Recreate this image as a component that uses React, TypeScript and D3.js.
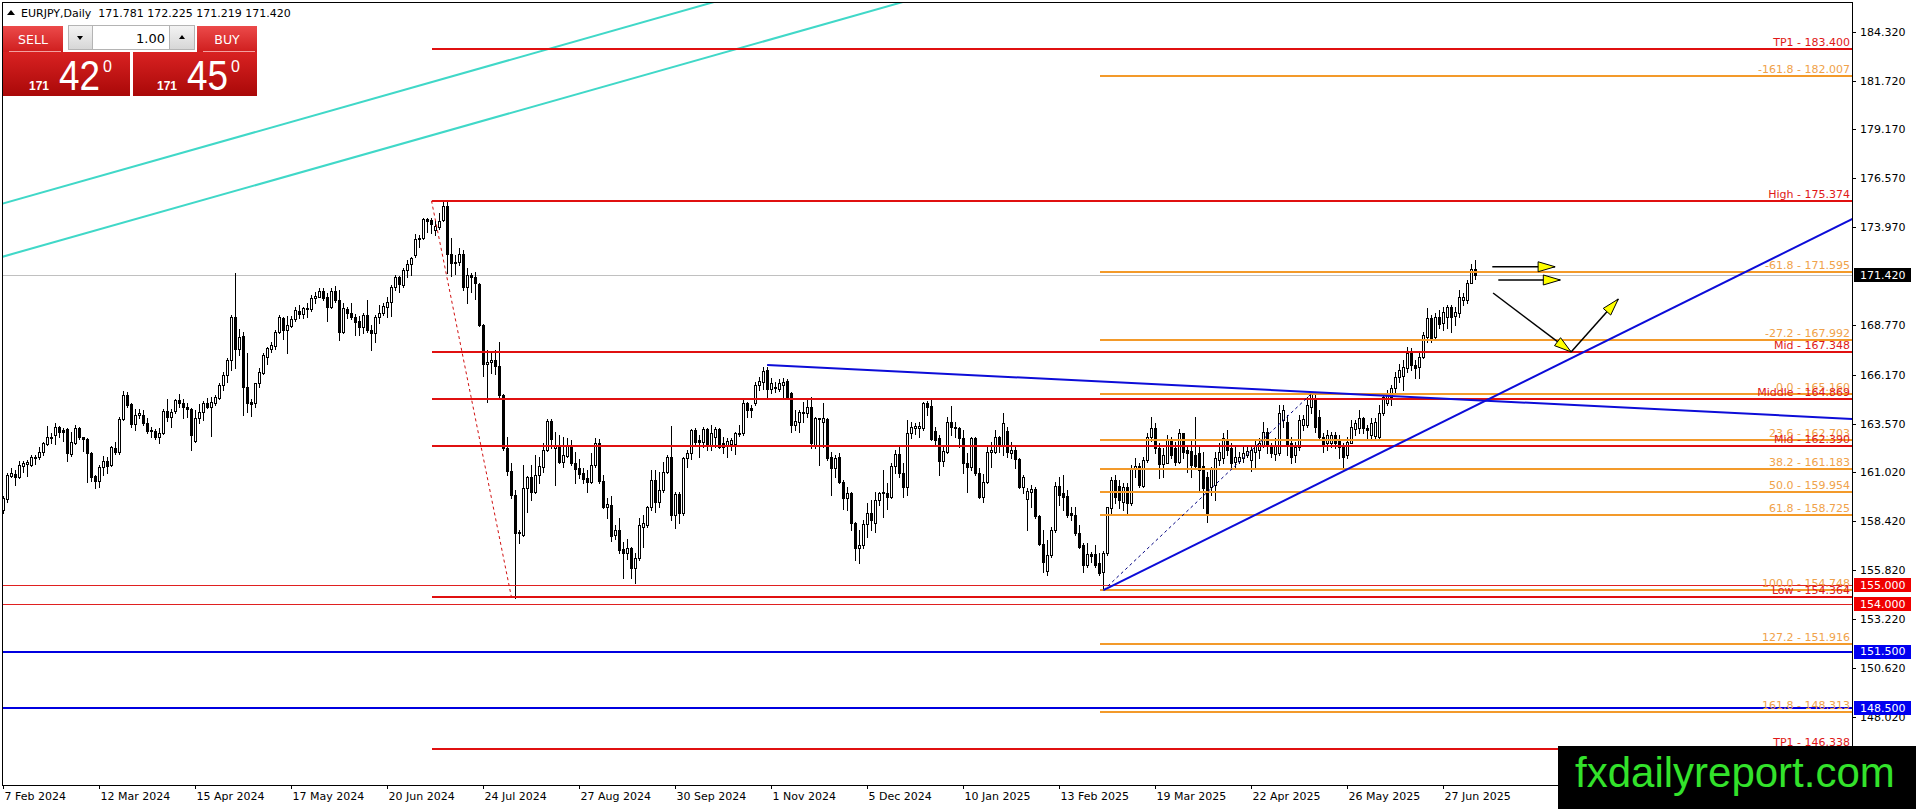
import * as d3 from 'd3';
import { useEffect, useRef } from 'react';

type Bar = [number, number, number, number]; // open, high, low, close

// Daily EURJPY candles
const febApr2024: Bar[] = [
  [159.0, 159.75, 158.82, 159.61], [159.56, 160.94, 159.44, 160.85], [160.8, 161.2, 160.76, 160.94], [160.9, 161.11, 160.32, 160.76],
  [160.76, 161.61, 160.67, 161.38], [161.33, 161.61, 161.03, 161.5], [161.45, 161.64, 160.81, 161.52], [161.38, 161.91, 161.33, 161.82],
  [161.79, 161.91, 161.42, 161.82], [161.79, 162.35, 161.68, 162.09], [162.05, 162.6, 161.91, 162.53], [162.49, 163.45, 162.44, 162.84],
  [162.84, 163.09, 162.56, 162.88], [162.97, 163.62, 162.49, 163.41], [163.41, 163.45, 162.88, 163.15], [163.23, 163.32, 162.67, 163.15],
  [163.27, 163.32, 161.61, 162.0], [161.96, 163.14, 161.86, 162.61], [162.56, 163.52, 162.47, 163.32], [163.32, 163.38, 162.74, 162.84],
  [162.84, 162.88, 162.12, 162.74], [162.74, 162.79, 160.5, 162.0], [162.0, 162.09, 160.55, 160.76], [160.8, 160.85, 160.14, 160.53],
  [160.55, 161.38, 160.2, 161.26], [161.26, 161.86, 160.85, 161.61], [161.61, 161.82, 160.97, 161.33], [161.38, 162.39, 161.33, 162.31],
  [162.26, 162.61, 161.96, 162.08], [162.08, 163.94, 161.96, 163.8], [163.8, 165.32, 163.76, 165.09], [165.09, 165.27, 164.47, 164.56],
  [164.61, 164.68, 163.41, 163.55], [163.55, 164.33, 163.23, 164.03], [164.03, 164.33, 163.85, 164.12], [164.03, 164.29, 163.5, 163.62],
  [163.62, 163.85, 163.1, 163.18], [163.23, 163.41, 162.88, 163.18], [163.18, 163.27, 162.74, 162.84], [162.84, 163.32, 162.56, 163.09],
  [163.09, 164.33, 163.02, 164.26], [164.26, 164.86, 163.73, 163.94], [163.94, 164.33, 163.41, 164.2], [164.26, 164.86, 164.12, 164.82],
  [164.82, 165.14, 164.47, 164.68], [164.68, 164.86, 163.85, 164.43], [164.47, 164.65, 163.94, 164.33], [164.33, 164.38, 162.17, 162.97],
  [162.67, 164.29, 162.61, 163.85], [163.85, 164.61, 163.62, 164.2], [164.2, 164.79, 163.76, 164.68], [164.68, 164.91, 164.4, 164.47],
  [164.47, 165.0, 162.92, 164.73], [164.65, 165.09, 164.56, 164.97],
];

const aprJul2024: Bar[] = [
  [164.91, 165.74, 164.86, 165.62], [165.62, 166.33, 165.35, 166.15], [166.15, 167.03, 165.8, 166.95], [166.95, 169.33, 166.41, 169.24],
  [169.24, 171.57, 166.5, 167.51], [167.51, 168.57, 167.21, 168.18], [168.22, 168.4, 164.03, 165.53], [165.53, 167.3, 164.21, 164.65],
  [164.74, 164.86, 163.95, 164.61], [164.65, 165.74, 164.47, 165.71], [165.71, 166.5, 165.53, 166.33], [166.27, 167.3, 166.2, 167.21],
  [167.12, 167.65, 166.73, 167.56], [167.51, 167.91, 167.38, 167.74], [167.68, 168.53, 167.51, 168.44], [168.44, 169.33, 168.35, 169.24],
  [169.15, 169.24, 168.04, 168.53], [168.53, 169.27, 167.3, 168.8], [168.74, 169.27, 168.71, 169.1], [169.1, 169.73, 169.01, 169.59],
  [169.54, 169.86, 169.15, 169.38], [169.38, 169.77, 169.15, 169.68], [169.68, 169.94, 169.24, 169.63], [169.63, 170.39, 169.56, 170.21],
  [170.21, 170.56, 169.94, 170.33], [170.3, 170.74, 170.26, 170.62], [170.62, 170.74, 170.12, 170.21], [170.26, 170.47, 169.03, 169.77],
  [169.77, 170.74, 169.68, 170.62], [170.62, 170.86, 170.03, 170.12], [170.12, 170.65, 168.0, 168.44], [168.44, 169.94, 168.35, 169.68],
  [169.63, 169.77, 169.15, 169.42], [169.42, 169.94, 169.1, 169.24], [169.24, 169.38, 168.27, 168.97], [169.03, 169.27, 168.27, 168.67],
  [168.67, 169.42, 168.35, 169.33], [169.33, 170.12, 168.45, 168.53], [168.53, 168.8, 167.47, 168.39], [168.39, 169.33, 167.91, 169.24],
  [169.22, 169.86, 168.88, 169.45], [169.45, 169.94, 169.33, 169.8], [169.77, 170.3, 169.24, 170.03], [170.03, 170.92, 169.27, 170.83],
  [170.83, 171.45, 170.65, 171.32], [171.32, 171.39, 170.56, 170.97], [170.92, 171.8, 170.79, 171.71], [171.71, 172.24, 171.32, 172.03],
  [172.0, 172.42, 171.45, 172.33], [172.5, 173.62, 172.42, 173.33], [173.33, 173.56, 172.95, 173.42], [173.39, 174.45, 173.33, 174.39],
  [174.39, 174.45, 173.74, 174.32],
];

const julSep2024: Bar[] = [
  [174.36, 174.45, 173.65, 174.15], [173.83, 174.32, 173.56, 174.04], [174.0, 174.71, 173.9, 174.32], [174.36, 175.33, 174.32, 175.1],
  [175.1, 175.37, 171.57, 172.56], [172.56, 173.39, 171.39, 172.1], [172.15, 172.5, 171.5, 172.1], [172.15, 172.86, 171.97, 172.56],
  [172.56, 172.77, 170.65, 170.79], [170.79, 171.8, 169.94, 171.45], [171.45, 171.57, 170.56, 171.36], [171.36, 171.62, 170.15, 171.0],
  [170.97, 171.0, 168.74, 168.8], [168.8, 168.85, 166.09, 166.73], [166.73, 167.47, 164.74, 166.85], [166.85, 167.38, 166.27, 166.94],
  [166.94, 167.47, 166.2, 166.62], [166.62, 167.91, 164.99, 165.09], [165.09, 165.14, 162.2, 162.26], [162.26, 162.85, 160.85, 161.08],
  [161.08, 161.47, 159.62, 159.79], [159.79, 160.06, 154.36, 157.8], [157.8, 157.95, 157.23, 157.85], [157.67, 161.38, 157.6, 160.14],
  [160.14, 160.8, 158.91, 160.76], [160.76, 161.38, 159.53, 159.97], [159.97, 161.91, 159.88, 160.85], [160.85, 161.82, 160.41, 161.33],
  [161.29, 162.53, 161.03, 162.18], [162.18, 163.8, 162.14, 163.73], [163.73, 163.8, 162.26, 162.74], [162.26, 163.15, 160.32, 162.44],
  [162.44, 162.97, 161.47, 161.56], [161.56, 162.88, 161.29, 161.91], [161.86, 162.79, 161.8, 162.44], [162.44, 162.7, 161.38, 161.47],
  [161.47, 162.09, 160.45, 161.15], [161.2, 161.68, 160.67, 160.9], [160.94, 161.2, 160.41, 160.62], [160.67, 161.12, 159.97, 160.5],
  [160.5, 162.03, 160.4, 161.38], [161.38, 162.79, 161.3, 162.56], [162.56, 162.74, 160.45, 160.55], [160.55, 160.85, 159.09, 159.18],
  [159.18, 159.62, 158.56, 159.31], [159.27, 159.74, 157.37, 157.62], [157.67, 158.2, 157.44, 157.94], [157.94, 158.56, 156.7, 156.88],
  [156.91, 157.32, 155.38, 156.7], [156.7, 157.44, 156.38, 156.97], [156.97, 157.05, 155.38, 155.91], [155.91, 156.7, 155.11, 156.44],
  [156.44, 158.56, 156.35, 158.2],
];

const sepDec2024: Bar[] = [
  [158.11, 158.73, 157.05, 158.29], [158.2, 159.21, 158.11, 159.17], [159.17, 161.12, 159.0, 160.59], [160.59, 161.12, 158.91, 159.44],
  [159.44, 161.03, 159.17, 160.06], [160.06, 161.56, 159.97, 161.03], [161.03, 161.91, 160.94, 161.82], [161.82, 163.45, 158.47, 158.73],
  [158.73, 159.97, 158.03, 159.85], [159.85, 159.97, 158.29, 158.82], [158.82, 161.79, 158.73, 161.73], [161.73, 162.17, 161.29, 161.99],
  [161.99, 163.27, 161.7, 163.23], [163.23, 163.32, 162.44, 162.62], [162.71, 162.97, 161.82, 162.62], [162.62, 163.37, 162.35, 163.27],
  [163.27, 163.32, 162.18, 162.44], [162.44, 163.5, 162.2, 163.06], [162.85, 163.41, 162.35, 163.27], [163.27, 163.32, 162.26, 162.35],
  [162.53, 162.85, 162.0, 162.35], [162.44, 162.79, 161.79, 162.67], [162.47, 162.79, 162.2, 162.71], [162.47, 163.15, 161.96, 163.06],
  [163.02, 163.5, 162.9, 163.09], [163.06, 164.91, 162.97, 164.65], [164.65, 164.74, 163.94, 164.29], [164.38, 164.56, 163.94, 164.29],
  [164.65, 165.8, 164.56, 165.62], [165.62, 166.06, 165.35, 165.85], [165.8, 166.55, 165.39, 166.38], [166.41, 166.59, 164.91, 165.39],
  [165.39, 165.97, 165.18, 165.71], [165.52, 165.75, 165.25, 165.44], [165.39, 165.92, 165.3, 165.71], [165.62, 165.97, 165.0, 165.8],
  [165.85, 165.92, 164.86, 164.91], [165.18, 165.27, 163.15, 163.5], [163.5, 164.29, 163.23, 163.73], [163.68, 164.29, 163.15, 164.21],
  [164.21, 164.74, 163.68, 164.12], [164.12, 164.91, 163.9, 164.47], [164.47, 165.0, 162.26, 162.53], [162.44, 163.94, 162.26, 163.85],
  [163.85, 163.88, 161.38, 163.8], [163.68, 164.65, 162.35, 163.85], [163.8, 163.85, 161.65, 161.73], [161.82, 162.09, 159.79, 161.2],
  [161.2, 161.91, 160.76, 161.73], [161.82, 162.0, 160.41, 160.5], [160.5, 160.59, 159.03, 159.62], [159.62, 160.23, 158.99, 159.88],
];

const decFeb2025: Bar[] = [
  [159.88, 159.95, 157.94, 158.29], [158.29, 158.38, 156.35, 156.97], [156.97, 157.94, 156.17, 157.14], [157.14, 158.47, 156.97, 158.26],
  [158.26, 159.35, 157.58, 158.82], [158.82, 159.53, 157.94, 158.47], [158.29, 159.97, 157.85, 159.53], [159.53, 159.97, 159.26, 159.88],
  [159.88, 161.12, 158.64, 159.97], [159.92, 160.41, 159.03, 159.67], [159.67, 161.47, 159.62, 161.33], [161.33, 162.17, 160.94, 161.96],
  [161.96, 162.35, 160.76, 160.94], [160.94, 161.47, 159.7, 160.2], [160.2, 163.76, 159.79, 163.06], [163.06, 163.68, 162.79, 163.41],
  [163.36, 163.59, 163.0, 163.45], [163.32, 163.68, 162.88, 163.45], [163.32, 164.74, 163.23, 164.65], [164.65, 164.79, 164.03, 164.47],
  [164.5, 164.82, 162.7, 162.74], [163.2, 163.41, 162.44, 162.7], [162.79, 162.97, 160.85, 161.61], [161.61, 162.44, 161.33, 162.14],
  [162.09, 163.94, 162.0, 163.68], [163.68, 164.5, 162.97, 163.38], [163.41, 163.68, 162.88, 163.32], [163.36, 163.41, 162.35, 162.79],
  [162.79, 163.23, 160.94, 161.5], [161.5, 161.99, 159.97, 161.26], [161.26, 162.85, 161.12, 162.79], [162.79, 162.85, 160.85, 160.94],
  [160.94, 161.2, 159.62, 159.67], [159.67, 160.9, 159.44, 160.5], [160.5, 162.35, 160.41, 162.09], [162.09, 162.62, 161.29, 162.17],
  [162.09, 163.23, 162.0, 162.85], [162.85, 162.9, 162.09, 162.44], [162.44, 164.12, 161.91, 163.59], [163.2, 163.41, 161.82, 162.09],
  [162.03, 162.62, 161.73, 162.17], [162.17, 162.35, 161.2, 161.68], [161.68, 161.73, 160.14, 160.23], [160.23, 160.85, 159.88, 160.73],
  [159.56, 160.14, 157.94, 160.02], [159.97, 160.32, 159.17, 160.09], [160.09, 160.23, 158.56, 158.68], [158.68, 158.73, 157.14, 157.2],
  [157.2, 157.94, 155.73, 156.26], [155.79, 157.41, 155.55, 156.61], [156.61, 158.11, 156.52, 157.94], [157.94, 160.5, 157.85, 160.27],
];

const febMay2025: Bar[] = [
  [160.27, 160.76, 159.26, 159.79], [159.88, 160.85, 158.99, 159.7], [159.74, 160.06, 158.64, 158.73], [158.82, 159.17, 158.47, 158.73],
  [158.73, 159.17, 157.67, 157.76], [157.76, 158.2, 156.97, 157.06], [157.14, 157.23, 155.73, 156.08], [156.08, 157.23, 155.99, 156.67],
  [156.67, 156.79, 156.26, 156.56], [156.67, 157.14, 155.99, 156.08], [156.21, 156.7, 155.55, 155.64], [155.7, 156.8, 154.75, 156.7],
  [156.7, 159.17, 156.6, 159.14], [159.08, 160.76, 158.73, 160.59], [160.59, 160.85, 159.35, 159.7], [160.27, 160.59, 159.09, 159.53],
  [159.44, 160.41, 158.99, 160.23], [160.23, 160.41, 158.82, 159.35], [159.35, 161.38, 159.26, 161.15], [161.15, 161.73, 160.76, 161.33],
  [161.33, 161.5, 160.23, 160.32], [160.27, 161.82, 160.23, 161.65], [161.65, 163.09, 161.56, 162.88], [162.85, 163.94, 162.67, 163.32],
  [163.32, 163.62, 161.99, 162.26], [162.26, 162.53, 160.67, 161.43], [161.43, 162.26, 160.76, 161.91], [161.5, 162.97, 161.47, 162.7],
  [162.7, 162.88, 161.73, 161.91], [162.26, 162.62, 161.38, 161.56], [161.56, 163.27, 161.47, 163.06], [163.06, 163.09, 161.73, 162.09],
  [162.17, 162.44, 161.03, 162.03], [162.14, 162.7, 160.76, 161.38], [161.91, 163.94, 161.2, 161.33], [162.0, 162.35, 159.97, 161.12],
  [161.33, 162.09, 159.09, 160.14], [160.76, 161.03, 158.38, 158.82], [160.23, 161.29, 159.79, 161.2], [160.32, 162.09, 159.53, 161.73],
  [161.65, 162.53, 161.38, 162.09], [161.73, 163.06, 161.47, 162.79], [162.7, 163.23, 161.91, 162.17], [162.26, 162.53, 161.29, 161.5],
  [161.56, 162.35, 161.29, 161.82], [161.61, 162.09, 161.47, 161.79], [161.73, 162.35, 161.56, 162.03], [161.91, 162.35, 161.82, 162.14],
  [161.65, 162.44, 161.06, 162.17], [162.09, 162.7, 161.29, 162.44], [162.17, 162.79, 161.73, 162.53], [162.44, 163.68, 162.35, 163.15],
  [163.15, 163.36, 162.0, 162.44],
];

const mayJul2025: Bar[] = [
  [162.35, 162.53, 161.82, 162.0], [161.96, 162.79, 161.65, 162.44], [162.0, 164.56, 161.91, 164.12], [163.76, 164.56, 163.41, 164.29],
  [163.67, 164.03, 161.91, 162.44], [162.53, 162.88, 161.47, 161.82], [161.91, 162.61, 161.56, 162.35], [162.35, 164.03, 162.17, 163.76],
  [163.5, 164.03, 163.23, 163.8], [163.5, 165.0, 163.41, 164.56], [164.47, 165.27, 164.12, 165.18], [164.86, 165.18, 163.15, 163.41],
  [163.94, 164.29, 162.71, 162.88], [162.88, 163.06, 162.09, 162.44], [162.53, 163.23, 162.18, 162.97], [162.53, 163.15, 162.35, 162.97],
  [162.97, 163.15, 162.26, 162.53], [162.71, 162.97, 161.73, 162.35], [162.38, 162.53, 161.29, 161.82], [161.91, 162.88, 161.73, 162.61],
  [162.56, 163.76, 162.53, 163.41], [163.27, 163.76, 162.97, 163.59], [163.32, 164.29, 163.06, 163.85], [163.85, 163.94, 163.06, 163.32],
  [163.32, 163.5, 162.79, 163.23], [162.97, 163.85, 162.79, 163.62], [162.92, 163.85, 162.79, 163.67], [162.88, 164.56, 162.79, 164.15],
  [164.12, 165.18, 164.03, 165.0], [164.65, 165.35, 164.56, 165.09], [165.0, 165.62, 164.56, 165.44], [165.44, 166.33, 165.18, 166.06],
  [166.06, 166.73, 165.8, 166.41], [166.09, 166.95, 165.35, 166.59], [166.5, 167.65, 166.33, 167.3], [167.3, 167.56, 166.41, 166.68],
  [166.68, 166.95, 165.97, 166.5], [166.59, 167.38, 165.97, 167.12], [167.12, 168.44, 167.03, 168.26], [168.14, 169.68, 167.91, 169.15],
  [169.15, 169.33, 167.91, 168.09], [168.18, 169.42, 168.09, 169.24], [169.24, 169.59, 168.62, 168.85], [168.88, 169.77, 168.53, 169.5],
  [169.24, 169.86, 168.62, 169.73], [169.73, 169.86, 168.44, 169.24], [169.27, 169.73, 168.8, 169.5], [169.42, 170.65, 169.24, 170.3],
  [170.12, 170.47, 169.86, 170.3], [170.12, 171.2, 169.94, 171.0], [171.0, 172.03, 171.0, 171.78], [171.781, 172.225, 171.219, 171.42],
];

const candles: Bar[] = [...febApr2024, ...aprJul2024, ...julSep2024, ...sepDec2024, ...decFeb2025, ...febMay2025, ...mayJul2025];

// one date label every 24 bars
const dateLabels = [
  '7 Feb 2024', '12 Mar 2024', '15 Apr 2024', '17 May 2024', '20 Jun 2024', '24 Jul 2024', '27 Aug 2024', '30 Sep 2024',
  '1 Nov 2024', '5 Dec 2024', '10 Jan 2025', '13 Feb 2025', '19 Mar 2025', '22 Apr 2025', '26 May 2025', '27 Jun 2025',
];
const priceTicks = [184.32, 181.72, 179.17, 176.57, 173.97, 168.77, 166.17, 163.57, 161.02, 158.42, 155.82, 153.22, 150.62, 148.02];

const fibLevels = [
  { name: '-161.8', price: 182.007 }, { name: '-61.8', price: 171.595 }, { name: '-27.2', price: 167.992 },
  { name: '0.0', price: 165.16 }, { name: '23.6', price: 162.703 }, { name: '38.2', price: 161.183 },
  { name: '50.0', price: 159.954 }, { name: '61.8', price: 158.725 }, { name: '100.0', price: 154.748 },
  { name: '127.2', price: 151.916 }, { name: '161.8', price: 148.313 },
];
const keyLevels = [
  { name: 'TP1', price: 183.4 }, { name: 'High', price: 175.374 }, { name: 'Mid', price: 167.348 },
  { name: 'Middle', price: 164.869 }, { name: 'Mid', price: 162.39 }, { name: 'Low', price: 154.364 },
  { name: 'TP1', price: 146.338 },
];
const redMarks = [155.0, 154.0];
const blueMarks = [151.5, 148.5];
const lastQuote = { open: 171.781, high: 172.225, low: 171.219, close: 171.42 };

// drawn objects, as [bar index, price] pairs
const channelLines = [
  [[-0.4, 175.21], [179.4, 186.01]],
  [[-0.4, 172.4], [226.6, 186.01]],
];
const trendRays = [
  [[190.9, 166.68], [462.2, 163.82]],
  [[275, 154.75], [462.2, 174.41]],
];
const fibAnchor = [[275, 154.748], [327, 165.16]];
const rangeAnchor = [[107, 175.374], [127, 154.364]];
const arrows = [
  [[372.2, 171.88], [387.9, 171.88]],
  [[373.7, 171.18], [389.2, 171.18]],
  [[372.4, 170.49], [391.9, 167.37]],
  [[391.9, 167.37], [403.7, 170.17]],
];

const W = 1916;
const H = 809;
const PR = 1852; // right edge of the plot
const PB = 785; // bottom edge of the plot
const FONT = "'DejaVu Sans', Verdana, sans-serif";

const App = () => {
  const ref = useRef<SVGSVGElement | null>(null);

  useEffect(() => {
    document.body.style.margin = '0';
    const svg = d3.select(ref.current).attr('width', W).attr('height', H).style('display', 'block').style('background', '#fff');
    svg.selectAll('*').remove();

    const x = d3.scaleLinear().domain([0, 462]).range([3.5, 3.5 + 4 * 462]);
    const y = d3.scaleLinear().domain([186.01, 144.43]).range([0, PB]);
    const yc = (v: number) => Math.round(y(v)) + 0.5;

    const defs = svg.append('defs');
    defs.append('clipPath').attr('id', 'plotClip').append('rect').attr('x', 3).attr('y', 3).attr('width', PR - 3).attr('height', PB - 3);
    const grad = (id: string, a: string, b: string) => {
      const g = defs.append('linearGradient').attr('id', id).attr('x1', 0).attr('y1', 0).attr('x2', 0).attr('y2', 1);
      g.append('stop').attr('offset', '0%').attr('stop-color', a);
      g.append('stop').attr('offset', '100%').attr('stop-color', b);
    };
    grad('btnRed', '#ec4a4a', '#cf1e1e');
    grad('boxRed', '#d92222', '#a90808');
    grad('spin', '#f4f4f4', '#d6d6d6');

    const plot = svg.append('g').attr('clip-path', 'url(#plotClip)');

    // current price line
    plot.append('line').attr('x1', 2).attr('x2', PR).attr('y1', yc(lastQuote.close)).attr('y2', yc(lastQuote.close))
      .attr('stroke', '#c0c0c0').attr('shape-rendering', 'crispEdges');

    // cyan channel
    channelLines.forEach(([a, b]) => {
      const s = (b[1] - a[1]) / (b[0] - a[0]);
      plot.append('line')
        .attr('x1', x(-5)).attr('y1', y(a[1] + s * (-5 - a[0])))
        .attr('x2', x(b[0] + 10)).attr('y2', y(a[1] + s * (b[0] + 10 - a[0])))
        .attr('stroke', '#40d8c8').attr('stroke-width', 2);
    });

    // candles
    const cg = plot.append('g').attr('shape-rendering', 'crispEdges');
    cg.selectAll('line').data(candles).join('line')
      .attr('x1', (_, i) => x(i)).attr('x2', (_, i) => x(i))
      .attr('y1', d => Math.round(y(d[1]))).attr('y2', d => Math.round(y(d[2])) + 1)
      .attr('stroke', '#000');
    cg.selectAll('rect').data(candles).join('rect')
      .attr('x', (_, i) => x(i) - 1).attr('width', 2)
      .attr('y', d => Math.round(y(Math.max(d[0], d[3]))) + 0.5)
      .attr('height', d => Math.max(Math.round(y(Math.min(d[0], d[3]))) - Math.round(y(Math.max(d[0], d[3]))), 1))
      .attr('fill', d => (d[3] >= d[0] ? '#fff' : '#000'))
      .attr('stroke', '#000');

    // horizontal marks across the whole chart
    redMarks.forEach(v => {
      plot.append('line').attr('x1', 2).attr('x2', PR).attr('y1', yc(v)).attr('y2', yc(v))
        .attr('stroke', '#e02020').attr('shape-rendering', 'crispEdges');
    });
    blueMarks.forEach(v => {
      plot.append('line').attr('x1', 2).attr('x2', PR).attr('y1', Math.round(y(v))).attr('y2', Math.round(y(v)))
        .attr('stroke', '#0000e0').attr('stroke-width', 2).attr('shape-rendering', 'crispEdges');
    });

    // fibonacci levels
    fibLevels.forEach(f => {
      const yy = Math.round(y(f.price));
      plot.append('line').attr('x1', x(274)).attr('x2', PR).attr('y1', yy).attr('y2', yy)
        .attr('stroke', '#f39a2a').attr('stroke-width', 2).attr('shape-rendering', 'crispEdges');
      plot.append('text').attr('x', PR - 2).attr('y', yy - 3).attr('text-anchor', 'end')
        .attr('font-family', FONT).attr('font-size', 11).attr('fill', '#f0a24a')
        .text(`${f.name} - ${f.price.toFixed(3)}`);
    });

    // high / low / mid levels
    keyLevels.forEach(k => {
      const yy = Math.round(y(k.price));
      plot.append('line').attr('x1', x(107)).attr('x2', PR).attr('y1', yy).attr('y2', yy)
        .attr('stroke', '#e01010').attr('stroke-width', 2).attr('shape-rendering', 'crispEdges');
      plot.append('text').attr('x', PR - 2).attr('y', yy - 3).attr('text-anchor', 'end')
        .attr('font-family', FONT).attr('font-size', 11).attr('fill', '#e01818')
        .text(`${k.name} - ${k.price.toFixed(3)}`);
    });

    // dashed anchors
    plot.append('line')
      .attr('x1', x(rangeAnchor[0][0])).attr('y1', y(rangeAnchor[0][1]))
      .attr('x2', x(rangeAnchor[1][0])).attr('y2', y(rangeAnchor[1][1]))
      .attr('stroke', '#d01010').attr('stroke-dasharray', '3,3');
    plot.append('line')
      .attr('x1', x(fibAnchor[0][0])).attr('y1', y(fibAnchor[0][1]))
      .attr('x2', x(fibAnchor[1][0])).attr('y2', y(fibAnchor[1][1]))
      .attr('stroke', '#000080').attr('stroke-dasharray', '3,3');

    // blue trend rays
    trendRays.forEach(([a, b]) => {
      const s = (b[1] - a[1]) / (b[0] - a[0]);
      plot.append('line')
        .attr('x1', x(a[0])).attr('y1', y(a[1]))
        .attr('x2', x(470)).attr('y2', y(a[1] + s * (470 - a[0])))
        .attr('stroke', '#0c0cd8').attr('stroke-width', 2);
    });

    // arrows
    arrows.forEach(([a, b]) => {
      const x1 = x(a[0]), y1 = y(a[1]), x2 = x(b[0]), y2 = y(b[1]);
      const ang = Math.atan2(y2 - y1, x2 - x1);
      plot.append('line').attr('x1', x1).attr('y1', y1).attr('x2', x2).attr('y2', y2)
        .attr('stroke', '#000').attr('stroke-width', 1.5);
      const len = 17, hw = 5;
      const bx = x2 - len * Math.cos(ang), by = y2 - len * Math.sin(ang);
      const px = -Math.sin(ang) * hw, py = Math.cos(ang) * hw;
      plot.append('path')
        .attr('d', `M${x2},${y2}L${bx + px},${by + py}L${bx - px},${by - py}Z`)
        .attr('fill', '#ffff00').attr('stroke', '#000').attr('stroke-width', 1);
    });

    // frame
    svg.append('rect').attr('x', 2.5).attr('y', 2.5).attr('width', PR - 2.5).attr('height', PB - 2.5)
      .attr('fill', 'none').attr('stroke', '#000').attr('shape-rendering', 'crispEdges');

    // price axis
    const ax = svg.append('g').attr('font-family', FONT).attr('font-size', 11);
    priceTicks.forEach(v => {
      ax.append('line').attr('x1', PR).attr('x2', PR + 4).attr('y1', yc(v)).attr('y2', yc(v))
        .attr('stroke', '#000').attr('shape-rendering', 'crispEdges');
      ax.append('text').attr('x', PR + 8).attr('y', y(v)).attr('dy', '0.36em').attr('fill', '#000').text(v.toFixed(3));
    });
    const tag = (v: number, bg: string) => {
      ax.append('rect').attr('x', PR + 2).attr('y', Math.round(y(v)) - 7).attr('width', 57).attr('height', 14).attr('fill', bg);
      ax.append('text').attr('x', PR + 8).attr('y', y(v)).attr('dy', '0.36em').attr('fill', '#fff').text(v.toFixed(3));
    };
    tag(lastQuote.close, '#000');
    redMarks.forEach(v => tag(v, '#f00000'));
    blueMarks.forEach(v => tag(v, '#0000f0'));

    // time axis
    dateLabels.forEach((t, i) => {
      const xx = x(i * 24);
      ax.append('line').attr('x1', xx).attr('x2', xx).attr('y1', PB).attr('y2', PB + 4)
        .attr('stroke', '#000').attr('shape-rendering', 'crispEdges');
      ax.append('text').attr('x', xx + 1).attr('y', PB + 15).attr('fill', '#000').text(t);
    });

    // header
    svg.append('path').attr('d', 'M7,15L11,10L15,15Z').attr('fill', '#000');
    svg.append('text').attr('x', 21).attr('y', 17).attr('font-family', FONT).attr('font-size', 11).attr('fill', '#000')
      .attr('xml:space', 'preserve')
      .text(`EURJPY,Daily  ${lastQuote.open.toFixed(3)} ${lastQuote.high.toFixed(3)} ${lastQuote.low.toFixed(3)} ${lastQuote.close.toFixed(3)}`);

    // one-click trading panel
    const pn = svg.append('g');
    const btn = (x0: number, label: string) => {
      pn.append('rect').attr('x', x0).attr('y', 26).attr('width', 60).attr('height', 26).attr('fill', 'url(#btnRed)');
      pn.append('line').attr('x1', x0 + 6).attr('x2', x0 + 58).attr('y1', 51.5).attr('y2', 51.5).attr('stroke', '#f3a0a0');
      pn.append('text').attr('x', x0 + 30).attr('y', 44).attr('text-anchor', 'middle').attr('font-family', FONT)
        .attr('font-size', 12.5).attr('fill', '#fff').text(label);
    };
    btn(3, 'SELL');
    btn(197, 'BUY');
    pn.append('rect').attr('x', 68.5).attr('y', 25.5).attr('width', 126).attr('height', 24).attr('fill', 'url(#spin)').attr('stroke', '#b4b4b4');
    pn.append('rect').attr('x', 92.5).attr('y', 25.5).attr('width', 77).attr('height', 24).attr('fill', '#fff').attr('stroke', '#b4b4b4');
    pn.append('path').attr('d', 'M77,36L83,36L80,40Z').attr('fill', '#000');
    pn.append('path').attr('d', 'M179,39L185,39L182,35Z').attr('fill', '#000');
    pn.append('text').attr('x', 165).attr('y', 43).attr('text-anchor', 'end').attr('font-family', FONT)
      .attr('font-size', 13).attr('fill', '#000').text('1.00');
    const quoteBox = (x0: number, w: number, big: string, bx: number) => {
      pn.append('rect').attr('x', x0).attr('y', 52).attr('width', w).attr('height', 44).attr('fill', 'url(#boxRed)');
      pn.append('text').attr('x', bx - 30).attr('y', 90).attr('font-family', "'Liberation Sans', Arial, sans-serif")
        .attr('font-weight', 'bold').attr('font-size', 12).attr('fill', '#fff').text('171');
      pn.append('text').attr('x', bx).attr('y', 90).attr('font-family', "'Liberation Sans', Arial, sans-serif")
        .attr('font-size', 42).attr('fill', '#fff').attr('textLength', 41).attr('lengthAdjust', 'spacingAndGlyphs').text(big);
      pn.append('text').attr('x', bx + 44).attr('y', 72).attr('font-family', "'Liberation Sans', Arial, sans-serif")
        .attr('font-size', 16).attr('fill', '#fff').text('0');
    };
    quoteBox(3, 127, '42', 59);
    quoteBox(133, 124, '45', 187);

    // watermark
    svg.append('rect').attr('x', 1558).attr('y', 746).attr('width', W - 1558).attr('height', H - 746).attr('fill', '#000');
    svg.append('text').attr('x', 1575).attr('y', 787).attr('font-family', "'Liberation Sans', Arial, sans-serif")
      .attr('font-size', 42).attr('fill', '#33e22b').text('fxdailyreport.com');
  }, []);

  return <svg ref={ref}></svg>;
};

export default App;
